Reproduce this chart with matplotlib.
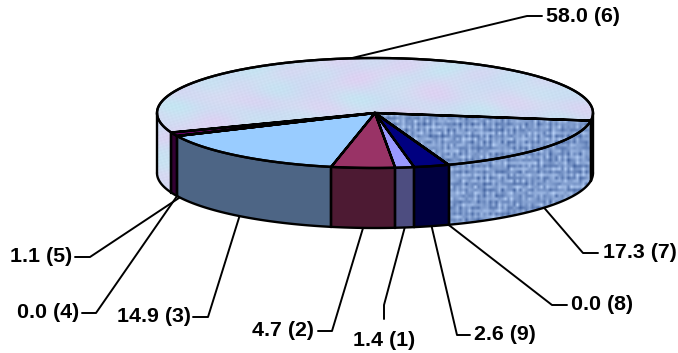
import numpy as np
import matplotlib
matplotlib.use('Agg')
import matplotlib.pyplot as plt
from matplotlib.patches import Polygon

# Chart data, in drawing order (clockwise)
slice_ids = [7, 8, 9, 1, 2, 3, 4, 5, 6]
values = [17.3, 0.0, 2.6, 1.4, 4.7, 14.9, 0.0, 1.1, 58.0]
top_colors = ['weave', '#000000', '#000080', '#9999ff', '#993366', '#99ccff', '#000000', '#660066', 'pastel']
side_colors = ['weave', '#000000', '#000040', '#4d4d80', '#4d1a33', '#4d6585', '#000000', '#330033', 'pastel']

# Layout in pixels: elbow of each leader, and where its text sits
elbows = [(583, 253), (552, 305), (457, 335), (384, 305), (332, 331), (208, 317), (96, 313), (90, 257), (527, 16)]
line_ends = [(598, 253), (567, 305), (470, 335), (384, 319), (318, 331), (193, 317), (82, 313), (75, 257), (542, 16)]
text_pos = [(603, 253), (571, 305), (474, 334), (384, 340), (314, 331), (191, 317), (79, 313), (72, 257), (546, 16)]
text_ha = ['left', 'left', 'left', 'center', 'right', 'right', 'right', 'right', 'left']
anchor_nudge = {5: (6, 3)}

cx, cy = 375, 113
rx, ry = 218, 55
depth = 60
start_angle = -8


def rim(angles):
    rad = np.radians(angles)
    return np.column_stack([cx + rx * np.cos(rad), cy - ry * np.sin(rad)])


def speckle(ii, jj):
    # fixed speckle for the fill pictures, same every run
    s = np.sin(ii * 12.9898 + jj * 78.233) * 43758.5453
    return s - np.floor(s)


def make_texture(name):
    if name == 'weave':
        jj, ii = np.mgrid[0:118, 0:226].astype(float)
        grid = (0.5 + 0.5 * np.cos(np.pi * ii)) * 0.5 + (0.5 + 0.5 * np.cos(np.pi * jj)) * 0.5
        v = 0.10 + 0.45 * grid + 0.50 * speckle(ii, jj)
        v = np.clip(v, 0, 1)[..., None]
        return (1 - v) * np.array([0.20, 0.33, 0.58]) + v * np.array([0.72, 0.82, 0.97])
    yy, xx = np.mgrid[0:353, 0:678].astype(float)
    pink = 0.5 + 0.5 * np.sin(xx * 0.045 + 1.3 * np.sin(yy * 0.09)) * np.sin(yy * 0.13 + xx * 0.02)
    cyan = 0.5 + 0.5 * np.sin(xx * 0.07 + 2.0) * np.sin(yy * 0.11 - xx * 0.03 + 1.0)
    grain = 0.012 * np.sin(xx * 1.1 + yy * 0.7) * np.sin(yy * 1.3 - xx * 0.5)
    img = np.stack([0.80 + 0.07 * pink - 0.03 * cyan + grain,
                    0.86 - 0.04 * pink + 0.04 * cyan + grain,
                    0.95 + 0.00 * pink + grain], axis=-1)
    return np.clip(img, 0, 1)


def fill_poly(ax, pts, color, z):
    if color in ('weave', 'pastel'):
        patch = Polygon(pts, closed=True, transform=ax.transData, facecolor='none', edgecolor='none')
        ax.add_patch(patch)
        im = ax.imshow(textures[color], extent=(0, 678, 353, 0), aspect='auto', zorder=z, interpolation='bilinear')
        im.set_clip_path(patch)
    else:
        ax.add_patch(Polygon(pts, closed=True, facecolor=color, edgecolor='none', zorder=z))


textures = {'weave': make_texture('weave'), 'pastel': make_texture('pastel')}

fig = plt.figure(figsize=(6.78, 3.53), dpi=100)
ax = fig.add_axes([0, 0, 1, 1])
ax.axis('off')

line_kw = dict(color='black', lw=1.7, solid_joinstyle='round', solid_capstyle='round')
leader_kw = dict(color='black', lw=1.4, solid_joinstyle='round', solid_capstyle='round')
angle = start_angle
for i, val in enumerate(values):
    sweep = val / 100 * 360
    a0, a1 = angle, angle - sweep
    mid = (a0 + a1) / 2
    arc = rim(np.linspace(a0, a1, max(int(sweep) * 2, 2)))

    # side wall, only the part of the rim that faces the viewer
    for shift in (0, -360):
        lo, hi = max(a1, -180 + shift), min(a0, shift)
        if hi - lo > 0:
            front = rim(np.linspace(hi, lo, max(int(hi - lo) * 2, 2)))
            wall = np.vstack([front, (front + [0, depth])[::-1]])
            fill_poly(ax, wall, side_colors[i], 2)
            ax.plot(front[:, 0], front[:, 1] + depth, zorder=4, **line_kw)
            ax.plot(*np.column_stack([front[0], front[0] + [0, depth]]), zorder=5, **line_kw)
            ax.plot(*np.column_stack([front[-1], front[-1] + [0, depth]]), zorder=5, **line_kw)

    # top face
    top = np.vstack([[cx, cy], arc])
    if sweep > 0:
        fill_poly(ax, top, top_colors[i], 3)
    ax.plot(*np.vstack([arc[::-1], [cx, cy], arc[0]]).T, zorder=6, **line_kw)
    ax.plot(arc[:, 0], arc[:, 1], zorder=6, **line_kw)

    # leader and label
    ax_pt = rim(np.array([mid]))[0]
    if np.sin(np.radians(mid)) < 0:
        ax_pt = ax_pt + [0, depth]
    nudge = anchor_nudge.get(slice_ids[i], (0, 0))
    ax_pt = ax_pt + nudge
    ax.plot([ax_pt[0], elbows[i][0], line_ends[i][0]], [ax_pt[1], elbows[i][1], line_ends[i][1]], zorder=1, **leader_kw)
    ax.text(text_pos[i][0], text_pos[i][1], f'{val:.1f} ({slice_ids[i]})', ha=text_ha[i], va='center',
            family='Liberation Sans', fontweight='bold', fontsize=15.4, color='black')
    angle = a1

ax.set_xlim(0, 678)
ax.set_ylim(353, 0)
fig.savefig('out.png', dpi=100)
